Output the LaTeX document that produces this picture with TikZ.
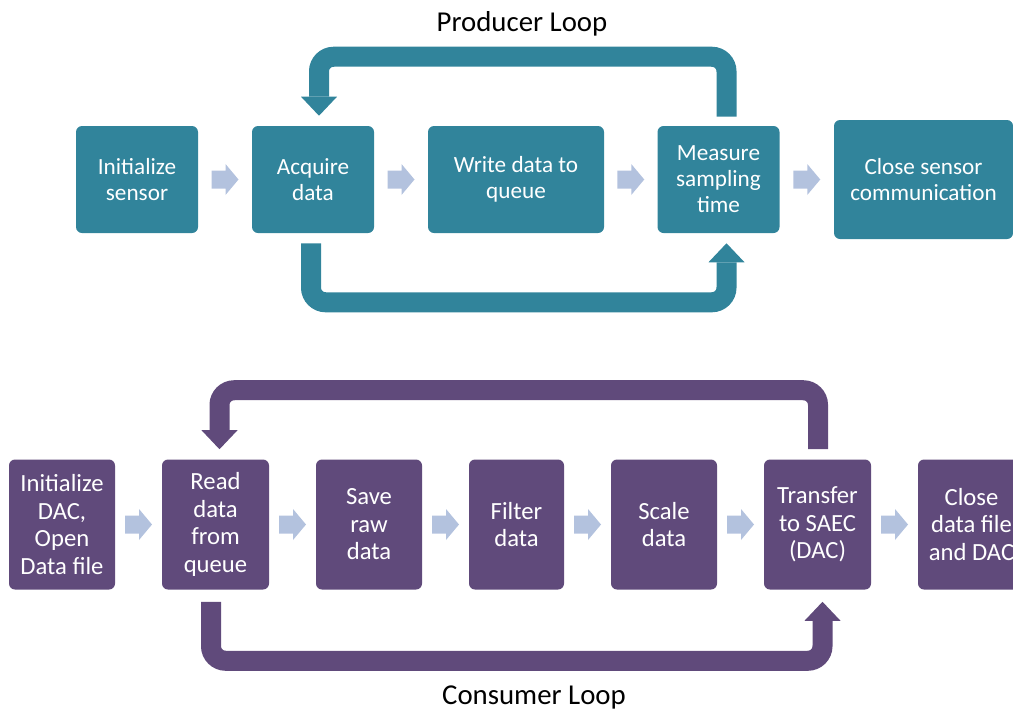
\documentclass[tikz,border=0pt]{standalone}
\usepackage{fontspec}
\setmainfont{Carlito}
\usetikzlibrary{arrows.meta}
\definecolor{prodteal}{HTML}{31849B}
\definecolor{conspurple}{HTML}{604A7B}
\definecolor{steparrow}{HTML}{B3C2DE}
\begin{document}
\begin{tikzpicture}[x=0.75pt,y=-0.75pt,
  stepbox/.style={rectangle,rounded corners=4.5pt,fill=#1,text=white,align=center,
    inner sep=2pt,font=\fontsize{17.4}{19.5}\selectfont},
  tbox/.style={stepbox=prodteal,minimum height=80.25pt},
  pbox/.style={stepbox=conspurple,minimum height=97.5pt,font=\fontsize{18.5}{20.6}\selectfont},
  flowarr/.pic={\fill[steparrow] (-13.5,-9) -- (0.5,-9) -- (0.5,-15.5) -- (13.5,0)
    -- (0.5,15.5) -- (0.5,9) -- (-13.5,9) -- cycle;},
  bigloop/.style={draw=#1,line width=15pt,rounded corners=11pt,
    -{Triangle[width=27pt,length=14.25pt,line width=0pt]}},
  looptitle/.style={anchor=base,font=\fontsize{21.6}{24}\selectfont}]
\useasboundingbox (0,0) rectangle (1013,711);
%\draw[gray,very thin,step=50] (0,0) grid (1013,711);

% producer loop
\node[tbox,minimum width=91.5pt] (isensor) at (137,179.5) {Initialize\\sensor};
\node[tbox,minimum width=91.5pt] (acquire) at (313,179.5) {Acquire\\data};
\node[tbox,minimum width=132pt] (writeq) at (516,179.5) {Write data to\\queue};
\node[tbox,minimum width=91.5pt] (measure) at (718.5,179.5) {Measure\\sampling\\time};
\node[tbox,minimum width=134.25pt,minimum height=89.25pt] (closesensor) at (923.5,179.5)
  {Close sensor\\communication};
\path (isensor) -- pic{flowarr} (acquire);
\path (acquire) -- pic{flowarr} (writeq);
\path (writeq) -- pic{flowarr} (measure);
\path (measure) -- pic{flowarr} (closesensor);
\draw[bigloop=prodteal] ([shift={(8,-9)}]measure.north) -- ++(0,-60)
  -| ([shift={(6,-10)}]acquire.north);
\draw[bigloop=prodteal] ([shift={(-2,10)}]acquire.south) -- ++(0,59)
  -| ([shift={(8,10)}]measure.south);
\node[looptitle] (prodtitle) at (522,31.5) {Producer Loop};

% consumer loop
\node[pbox,minimum width=79.5pt] (initdac) at (62,524.5) {Initialize\\DAC,\\Open\\Data file};
\node[pbox,minimum width=80.25pt] (readq) at (215.5,524.5) {Read\\data\\from\\queue};
\node[pbox,minimum width=79.5pt] (saveraw) at (369,524.5) {Save\\raw\\data};
\node[pbox,minimum width=71.25pt] (filter) at (516.5,524.5) {Filter\\data};
\node[pbox,minimum width=79.5pt] (scale) at (664,524.5) {Scale\\data};
\node[pbox,minimum width=80.25pt] (transfer) at (817.5,524.5) {Transfer\\to SAEC\\(DAC)};
\node[pbox,minimum width=80.25pt] (closedac) at (971.5,524.5) {Close\\data file\\and DAC};
\path (initdac) -- pic{flowarr} (readq);
\path (readq) -- pic{flowarr} (saveraw);
\path (saveraw) -- pic{flowarr} (filter);
\path (filter) -- pic{flowarr} (scale);
\path (scale) -- pic{flowarr} (transfer);
\path (transfer) -- pic{flowarr} (closedac);
\draw[bigloop=conspurple] ([shift={(0.5,-10)}]transfer.north) -- ++(0,-59)
  -| ([shift={(4,-10)}]readq.north);
\draw[bigloop=conspurple] ([shift={(-4.5,12)}]readq.south) -- ++(0,59)
  -| ([shift={(5,12)}]transfer.south);
\node[looptitle] (constitle) at (534,704) {Consumer Loop};
\end{tikzpicture}
\end{document}
